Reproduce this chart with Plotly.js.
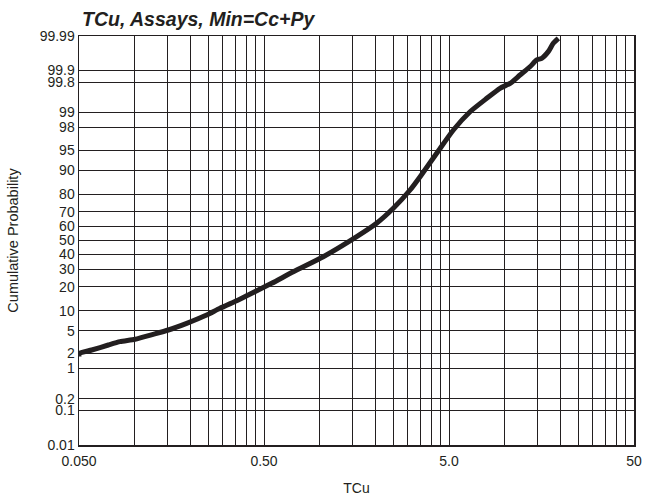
<!DOCTYPE html>
<html><head><meta charset="utf-8">
<script src="https://cdn.plot.ly/plotly-3.0.1.min.js"></script>
<style>html,body{margin:0;padding:0;background:#fff}</style>
</head><body>
<div id="chart" style="width:647px;height:501px"></div>
<script>
// Data (TCu grade vs cumulative probability in %)
const tcu = [0.05, 0.05, 0.05, 0.0586, 0.0720, 0.0833, 0.1004, 0.126, 0.152, 0.191, 0.245, 0.289, 0.363, 0.411, 0.550, 0.720, 1.046, 1.585, 2.03, 2.50, 3.08, 3.49, 4.29, 5.28, 6.50, 8.00, 9.43, 10.7, 12.1, 13.7, 14.9, 15.85, 17.2, 18.3, 19.5];
const cumProb = [1.75, 1.85, 2.0, 2.32, 2.87, 3.29, 3.62, 4.40, 5.18, 6.60, 8.77, 10.88, 13.96, 16.08, 21.8, 28.5, 38.4, 52.8, 62.3, 72.1, 82.07, 87.7, 94.36, 97.78, 99.04, 99.514, 99.718, 99.787, 99.869, 99.921, 99.9487, 99.9538, 99.9703, 99.9832, 99.9882];
const probTicks = [99.99, 99.9, 99.8, 99, 98, 95, 90, 80, 70, 60, 50, 40, 30, 20, 10, 5, 2, 1, 0.2, 0.1, 0.01];
const probTickLabels = ['99.99','99.9','99.8','99','98','95','90','80','70','60','50','40','30','20','10','5','2','1','0.2','0.1','0.01'];
const tcuMajor = [0.05, 0.5, 5, 50];
const tcuTickLabels = ['0.050','0.50','5.0','50'];

// inverse standard normal CDF (Acklam)
function normInv(p){
  const a=[-3.969683028665376e+01,2.209460984245205e+02,-2.759285104469687e+02,1.383577518672690e+02,-3.066479806614716e+01,2.506628277459239e+00];
  const b=[-5.447609879822406e+01,1.615858368580409e+02,-1.556989798598866e+02,6.680131188771972e+01,-1.328068155288572e+01];
  const c=[-7.784894002430293e-03,-3.223964580411365e-01,-2.400758277161838e+00,-2.549732539343734e+00,4.374664141464968e+00,2.938163982698783e+00];
  const d=[7.784695709041462e-03,3.224671290700398e-01,2.445134137142996e+00,3.754408661907416e+00];
  const pl=0.02425, ph=1-pl; let q,r;
  if(p<pl){q=Math.sqrt(-2*Math.log(p));return (((((c[0]*q+c[1])*q+c[2])*q+c[3])*q+c[4])*q+c[5])/((((d[0]*q+d[1])*q+d[2])*q+d[3])*q+1);}
  if(p<=ph){q=p-0.5;r=q*q;return (((((a[0]*r+a[1])*r+a[2])*r+a[3])*r+a[4])*r+a[5])*q/(((((b[0]*r+b[1])*r+b[2])*r+b[3])*r+b[4])*r+1);}
  q=Math.sqrt(-2*Math.log(1-p));return -(((((c[0]*q+c[1])*q+c[2])*q+c[3])*q+c[4])*q+c[5])/((((d[0]*q+d[1])*q+d[2])*q+d[3])*q+1);
}
const z = cumProb.map(p => normInv(p/100));
const yTickVals = probTicks.map(p => normInv(p/100));
const zMax = normInv(0.9999), zMin = normInv(0.0001);

// x gridlines at each multiple of 0.05 within decades
const xTickVals = [], xTickText = [];
tcuMajor.forEach((m, i) => {
  if (i === tcuMajor.length - 1) { xTickVals.push(m); xTickText.push(tcuTickLabels[i]); return; }
  for (let k = 1; k <= 9; k++) { xTickVals.push(m*k); xTickText.push(k === 1 ? tcuTickLabels[i] : ''); }
});

const font = {family: 'Liberation Sans, Arial, sans-serif', size: 14, color: '#231f20'};
Plotly.newPlot('chart', [{
  x: tcu, y: z, type: 'scatter', mode: 'lines',
  line: {color: '#231f20', width: 5, shape: 'spline', smoothing: 0.6}, hoverinfo: 'skip'
}], {
  width: 647, height: 501,
  margin: {l: 79, r: 13, t: 36, b: 56},
  paper_bgcolor: '#fff', plot_bgcolor: '#fff',
  showlegend: false,
  font: font,
  title: {text: 'TCu, Assays, Min=Cc+Py', x: 82/647, xref: 'container', xanchor: 'left', y: 1 - 19/501, yanchor: 'middle',
          font: {family: 'Liberation Sans, Arial, sans-serif', size: 19.5, weight: 'bold', style: 'italic', color: '#231f20'}},
  xaxis: {
    type: 'log', range: [Math.log10(0.05), Math.log10(50)],
    tickmode: 'array', tickvals: xTickVals, ticktext: xTickText,
    ticks: '', ticklabelstandoff: 3, showgrid: true, gridcolor: '#231f20', gridwidth: 1,
    showline: true, linecolor: '#231f20', linewidth: 1.5, mirror: true,
    zeroline: false, tickfont: font,
    title: {text: 'TCu', font: font, standoff: 15}
  },
  yaxis: {
    range: [zMin, zMax],
    tickmode: 'array', tickvals: yTickVals, ticktext: probTickLabels,
    ticks: '', showgrid: true, gridcolor: '#231f20', gridwidth: 1,
    showline: true, linecolor: '#231f20', linewidth: 1.5, mirror: true,
    zeroline: false, tickfont: font,
    title: {text: 'Cumulative Probability', font: Object.assign({}, font, {size: 14.5}), standoff: 17}
  }
}, {displayModeBar: false, staticPlot: true});
</script>
</body></html>
